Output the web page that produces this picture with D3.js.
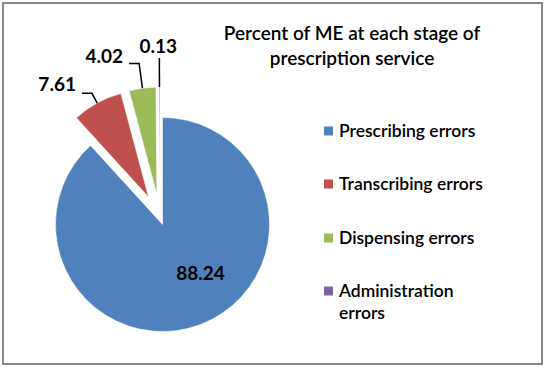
<!DOCTYPE html>
<html>
<head>
<meta charset="utf-8">
<script src="https://cdn.jsdelivr.net/npm/d3@7/dist/d3.min.js"></script>
<style>
  html, body { margin: 0; padding: 0; background: #fff; }
  svg { display: block; }
</style>
</head>
<body>
<svg id="chart" width="545" height="368"></svg>
<script>
// ---- data ----
const categories = ["Prescribing errors", "Transcribing errors", "Dispensing errors", "Administration errors"];
const values = [88.24, 7.61, 4.02, 0.13];
const valueLabels = ["88.24", "7.61", "4.02", "0.13"];
const colors = ["#4F81BD", "#C0504D", "#9BBB59", "#8064A2"];
const titleLines = ["Percent of ME at each stage of", "prescription service"];
const legendLines = [["Prescribing errors"], ["Transcribing errors"], ["Dispensing errors"], ["Administration", "errors"]];

// ---- layout ----
const W = 545, H = 368;
const cx = 160, cy = 218, R = 107;
const explode = [7, 24, 24, 24];
const font = "Lato, 'Open Sans', 'DejaVu Sans', sans-serif";

const svg = d3.select("#chart");

svg.append("rect")
  .attr("x", 3).attr("y", 3).attr("width", 539).attr("height", 361)
  .attr("fill", "#fff").attr("stroke", "#878787").attr("stroke-width", 2);

// title
const title = svg.append("text")
  .attr("text-anchor", "middle")
  .attr("font-family", font).attr("font-size", 19).attr("font-weight", 600)
  .attr("fill", "#000");
titleLines.forEach((t, i) => {
  title.append("tspan").attr("x", 352).attr("y", 40 + i * 25).text(t);
});

// pie
const pie = d3.pie().sort(null).startAngle(0).endAngle(2 * Math.PI)(values);
const arc = d3.arc().innerRadius(0).outerRadius(R);

const g = svg.append("g");
pie.forEach((d, i) => {
  const mid = (d.startAngle + d.endAngle) / 2;
  const ux = Math.sin(mid), uy = -Math.cos(mid);
  const sx = cx + ux * explode[i], sy = cy + uy * explode[i];
  d.sx = sx; d.sy = sy; d.ux = ux; d.uy = uy; d.mid = mid;
  g.append("path")
    .attr("d", arc(d))
    .attr("transform", `translate(${sx},${sy})`)
    .attr("fill", colors[i])
    .attr("stroke", "#fff").attr("stroke-width", 0.5);
});

// labels
const lblFont = 19;
// blue label inside
{
  const d = pie[0];
  const rr = R * 0.575;
  const a = d.mid - 17 * Math.PI / 180;
  svg.append("text")
    .attr("x", d.sx + Math.sin(a) * rr).attr("y", d.sy - Math.cos(a) * rr)
    .attr("text-anchor", "middle").attr("dy", "0.35em")
    .attr("font-family", font).attr("font-size", lblFont).attr("font-weight", 700)
    .text(valueLabels[0]);
}
// outside labels with leaders: ext (radial extension), hLen (horizontal segment)
const leaderCfg = [null, {ext: 11, h: 10}, {ext: 25, h: 10}, {ext: 29, h: 0}];
for (let i = 1; i < pie.length; i++) {
  const d = pie[i], c = leaderCfg[i];
  const ex = d.sx + d.ux * R, ey = d.sy + d.uy * R;
  const bx = d.sx + d.ux * (R + c.ext), by = d.sy + d.uy * (R + c.ext);
  const hx = bx - c.h;
  svg.append("polyline")
    .attr("points", [[ex, ey], [bx, by], [hx, by]].map(p => p.join(",")).join(" "))
    .attr("fill", "none").attr("stroke", "#000").attr("stroke-width", 1.5);
  const t = svg.append("text")
    .attr("font-family", font).attr("font-size", lblFont).attr("font-weight", 700)
    .text(valueLabels[i]);
  if (c.h > 0) {
    t.attr("x", hx - 6).attr("y", by - (i === 1 ? 2 : 0)).attr("text-anchor", "end");
  } else {
    t.attr("x", hx - 1).attr("y", by - 5).attr("text-anchor", "middle");
  }
}

// legend
const lg = svg.append("g");
const legendY = [131, 184, 238, 291];
categories.forEach((c, i) => {
  lg.append("rect").attr("x", 324).attr("y", legendY[i] - 4.5).attr("width", 9).attr("height", 9)
    .attr("fill", colors[i]);
  const t = lg.append("text").attr("font-family", font).attr("font-size", 17.5).attr("font-weight", 600)
    .attr("fill", "#000");
  legendLines[i].forEach((ln, j) => {
    t.append("tspan").attr("x", 339).attr("y", legendY[i] + 6 + j * 22).text(ln);
  });
});
</script>
</body>
</html>
